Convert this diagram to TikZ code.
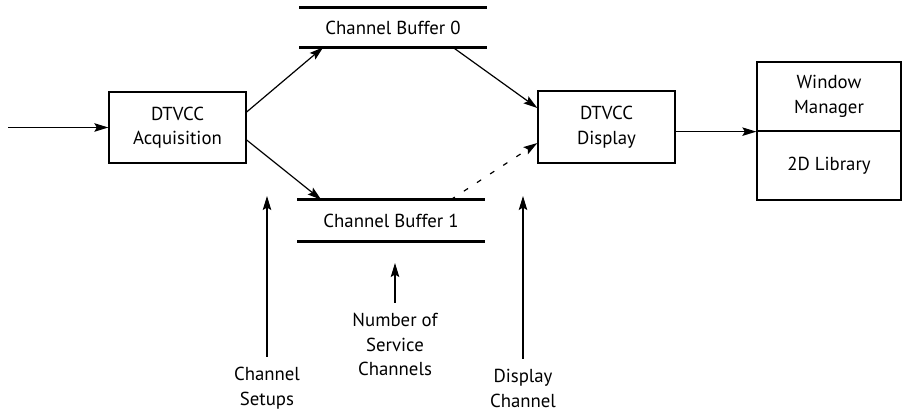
\documentclass[tikz,border=0pt]{standalone}
\usepackage{fontspec}
\setmainfont{PT Sans}
\usetikzlibrary{arrows.meta,calc}

\tikzset{
  box/.style={draw, line width=1.3pt, align=center, inner sep=0pt},
  bufbox/.style={draw=none, inner sep=0pt, minimum width=187pt},
  bufline/.style={line width=3pt},
  arr/.style={line width=1.2pt, -{Stealth[length=14pt,width=8.5pt,inset=2.5pt]}},
  dasharr/.style={arr, dash pattern=on 5pt off 10.7pt},
  note/.style={align=center, inner xsep=0pt, inner ysep=10pt, anchor=north},
}

\begin{document}
\begin{tikzpicture}[x=1pt, y=-1pt, font=\fontsize{18.8}{24.5}\selectfont]
  \useasboundingbox (0,0) rectangle (903,411);

  % processing blocks
  \node[box, minimum width=137pt, minimum height=71pt] (acq) at (177.5,127.5) {DTVCC\\Acquisition};
  \node[box, minimum width=137pt, minimum height=72pt] (disp) at (606.5,127) {DTVCC\\Display};
  \node[box, minimum width=144pt, minimum height=69pt] (wmtop) at (829,96.5) {Window\\Manager};
  \node[box, minimum width=144pt, minimum height=69pt] (wmbot) at (829,165.5) {2D Library};

  % channel buffers, drawn as two rules each
  \node[bufbox, minimum height=39pt] (b0) at (393,27.5) {Channel Buffer 0};
  \node[bufbox, minimum height=41pt] (b1) at (391,220.5) {Channel Buffer 1};
  \draw[bufline] (b0.north west) -- (b0.north east);
  \draw[bufline] (b0.south west) -- (b0.south east);
  \draw[bufline] (b1.north west) -- (b1.north east);
  \draw[bufline] (b1.south west) -- (b1.south east);

  % control inputs
  \node[note] (cs) at (267,357) {Channel\\Setups};
  \node[note] (ns) at (395,303) {Number of\\Service\\Channels};
  \node[note] (dc) at (523,359) {Display\\Channel};
  \coordinate (cstip) at (267,196);
  \coordinate (nstip) at (395,263);
  \coordinate (dctip) at (523,196);
  \coordinate (in) at (8,127.5);

  % data flow
  \draw[arr] (in) -- (acq.west);
  \draw[arr] ($(acq.east)+(0,-15.5)$) -- ($(b0.south west)+(24,0)$);
  \draw[arr] ($(acq.east)+(0,12.5)$) -- ($(b1.north west)+(24,0)$);
  \draw[arr] ($(b0.south east)+(-34,0)$) -- ($(disp.west)+(0,-19)$);
  \draw[dasharr] ($(b1.north east)+(-34,0)$) -- ($(disp.west)+(0,16)$);
  \draw[arr] (wmtop.south west -| disp.east) -- (wmtop.south west);

  % control arrows
  \draw[arr] (cs.north) -- (cstip);
  \draw[arr] (ns.north) -- (nstip);
  \draw[arr] (dc.north) -- (dctip);
\end{tikzpicture}
\end{document}
